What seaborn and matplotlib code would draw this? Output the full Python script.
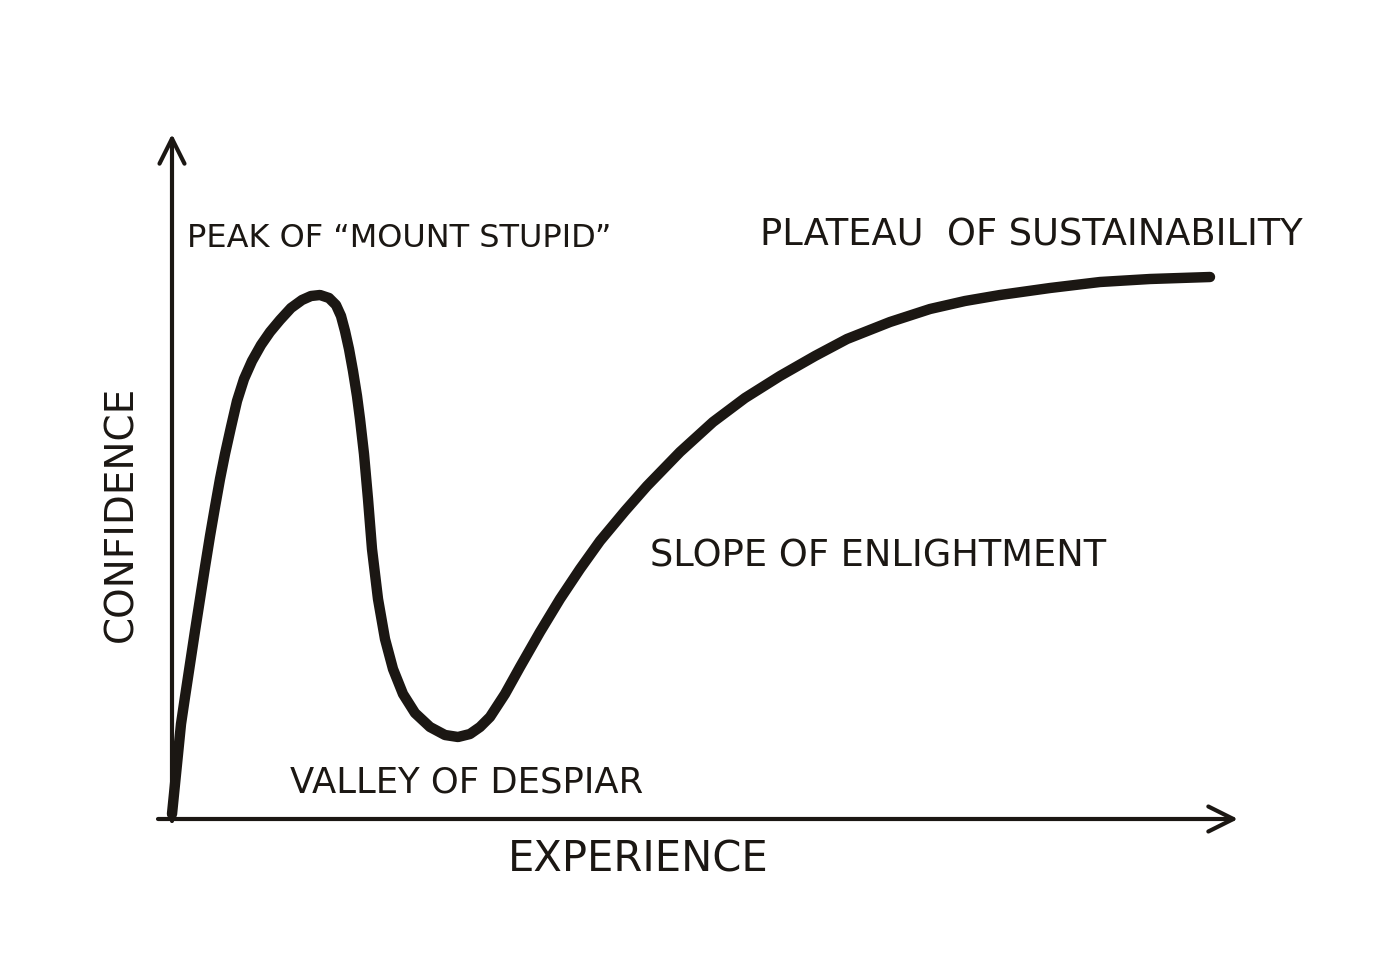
import numpy as np
import pandas as pd
import seaborn as sns
import matplotlib.pyplot as plt

# Values (experience vs confidence, arbitrary units)
experience = [0, 0.3, 0.6, 0.9, 1.3, 1.8, 2.3, 2.8, 3.3, 3.8, 4.3, 4.8, 5.3, 5.9, 6.5,
              7.2, 8.0, 8.9, 9.8, 10.8, 11.9, 13.0, 13.9, 14.8, 15.7, 16.4, 16.9, 17.3,
              17.7, 18.1, 18.5, 18.8, 19.2, 19.6, 20.0, 20.6, 21.3, 22.1, 23.1, 24.3,
              25.8, 27.3, 28.6, 29.8, 30.8, 31.8, 33.3, 34.8, 36.8, 38.8, 40.8, 42.8,
              45.3, 47.5, 50.8, 54.1, 57.3, 60.8, 64.3, 67.5, 71.8, 75.8, 79.3, 82.8,
              87.8, 92.8, 97.8, 103.8]
confidence = [0.5, 3.5, 6.5, 9.5, 12.2, 15.5, 18.8, 22.0, 25.2, 28.3, 31.2, 34.0, 36.5,
              39.2, 41.8, 44.0, 45.8, 47.4, 48.7, 49.9, 51.1, 51.9, 52.3, 52.4, 52.1,
              51.4, 50.3, 48.8, 47.0, 44.8, 42.3, 40.0, 36.5, 32.0, 27.0, 22.0, 18.0,
              15.0, 12.5, 10.6, 9.2, 8.4, 8.2, 8.5, 9.2, 10.2, 12.5, 15.2, 18.7, 22.0,
              25.0, 27.8, 30.8, 33.3, 36.7, 39.7, 42.1, 44.3, 46.3, 48.0, 49.7, 51.0,
              51.8, 52.4, 53.1, 53.7, 54.0, 54.2]

labels = ['PEAK OF \u201cMOUNT STUPID\u201d', 'PLATEAU  OF SUSTAINABILITY',
          'SLOPE OF ENLIGHTMENT', 'VALLEY OF DESPIAR']
label_x = [1.5, 58.8, 47.8, 11.8]
label_y = [58.1, 58.5, 26.4, 3.7]
label_size = [23, 26.5, 26.5, 25.5]

ink = '#1b1713'

sns.set_style("white")
plt.rcParams['font.family'] = ['DejaVu Sans']

fig = plt.figure(figsize=(14, 9.78), dpi=100)
ax = fig.add_axes([0, 0, 1, 1])

df = pd.DataFrame({'Experience': experience, 'Confidence': confidence})
sns.lineplot(data=df, x='Experience', y='Confidence', sort=False, estimator=None,
             color=ink, linewidth=7.5, solid_capstyle='round', solid_joinstyle='round', ax=ax)

# hand drawn axes with open arrow heads
arrow = dict(arrowstyle='->', color=ink, lw=3, mutation_scale=45, shrinkA=0, shrinkB=0)
ax.annotate('', xy=(0, 68.5), xytext=(0, -0.2), arrowprops=arrow)
ax.annotate('', xy=(106.6, 0), xytext=(-1.4, 0), arrowprops=arrow)

for txt, x, y, s in zip(labels, label_x, label_y, label_size):
    ax.text(x, y, txt, fontsize=s, color=ink, ha='left', va='center')

ax.text(46.6, -4.0, 'EXPERIENCE', fontsize=30, color=ink, ha='center', va='center')
ax.text(-5.1, 30.6, 'CONFIDENCE', fontsize=28, color=ink, ha='center', va='center',
        rotation=90)

ax.set_xlim(-17.2, 122.8)
ax.set_ylim(-15.8, 82.0)
ax.axis('off')

fig.savefig('out.png', dpi=100, facecolor='white')
plt.close()
